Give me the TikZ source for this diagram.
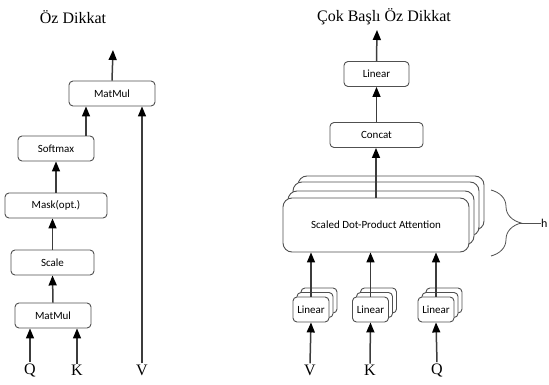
\documentclass[tikz,border=0pt]{standalone}
\usepackage{fontspec}
\setmainfont{Liberation Serif}
\setsansfont{Carlito}
\usepackage{xcolor}
\usetikzlibrary{arrows.meta, positioning, calc, shadows, decorations.pathreplacing}
\definecolor{boxline}{RGB}{80, 80, 80}
\definecolor{arrowline}{RGB}{60, 60, 60}

\begin{document}
\begin{tikzpicture}[
    x=1pt, y=-1pt,
    box/.style={rectangle, draw=boxline, fill=white, rounded corners=4pt, line width=0.9pt, text centered, minimum height=25pt, inner sep=0pt, font=\sffamily\fontsize{11}{13}\selectfont},
    linbox/.style={box, minimum width=36pt, copy shadow={shadow xshift=8pt, shadow yshift=9pt}, copy shadow={shadow xshift=4pt, shadow yshift=4.5pt}},
    attbox/.style={box, minimum width=186pt, minimum height=54pt, rounded corners=9pt, copy shadow={shadow xshift=15pt, shadow yshift=22pt}, copy shadow={shadow xshift=10pt, shadow yshift=16pt}, copy shadow={shadow xshift=5pt, shadow yshift=7pt}},
    title/.style={font=\fontsize{16}{18}\selectfont},
    input/.style={font=\fontsize{16}{18}\selectfont, inner sep=1pt},
    arrow/.style={-{Triangle[width=8pt,length=10pt,color=black]}, line width=1.5pt, color=arrowline},
    bracestyle/.style={decorate, decoration={brace, amplitude=30pt}, line width=0.8pt, color=boxline}
]
    \useasboundingbox (0,0) rectangle (549,385);

    % Titles
    \node[title] (t1) at (73,17) {Öz Dikkat};
    \node[title] (t2) at (384,17) {Çok Başlı Öz Dikkat};

    % Left: self attention
    \node[box, minimum width=76pt] (mm1) at (53,315.5) {MatMul};
    \node[box, minimum width=83pt] (scale) at (52.5,262.5) {Scale};
    \node[box, minimum width=102pt] (mask) at (56,205.5) {Mask(opt.)};
    \node[box, minimum width=76pt] (softmax) at (56,148.5) {Softmax};
    \node[box, minimum width=86pt] (mm2) at (112,93.5) {MatMul};
    \coordinate (out1) at (113,50);

    \node[input] (q1) at (30,370) {Q};
    \node[input] (k1) at (77,370) {K};
    \node[input] (v1) at (142,370) {V};

    % Right: multi-head attention
    \node[linbox] (linv) at (311,309.5) {Linear};
    \node[linbox] (link) at (370.5,309.5) {Linear};
    \node[linbox] (linq) at (436,309.5) {Linear};
    \node[attbox] (sdpa) at (376,225) {Scaled Dot-Product Attention};
    \node[box, minimum width=93pt] (concat) at (376.5,135) {Concat};
    \node[box, minimum width=65pt] (linout) at (376.5,74) {Linear};
    \coordinate (out2) at (377,30);

    \node[input] (v2) at (310,370) {V};
    \node[input] (k2) at (370,370) {K};
    \node[input] (q2) at (437,370) {Q};

    % h heads brace
    \coordinate (brt) at (491,190);
    \coordinate (brb) at (491,256);
    \coordinate (brtip) at (519,223);
    \node[anchor=west, inner sep=0pt, font=\sffamily\fontsize{12}{14}\selectfont] (heads) at (541,223) {h};

    % Arrows left
    \draw[arrow] (q1.north) -- (q1 |- mm1.south);
    \draw[arrow] (k1.north) -- (k1 |- mm1.south);
    \draw[arrow] (mm1.north) -- (scale.south);
    \draw[arrow] (scale.north) -- (scale.north |- mask.south);
    \draw[arrow] (mask.north) -- (softmax.south);
    \coordinate (sm) at ($(softmax.north)+(30,0)$);
    \draw[arrow] (sm) -- (sm |- mm2.south);
    \draw[arrow] (v1.north) -- (v1.north |- mm2.south);
    \draw[arrow] (mm2.north) -- (out1);

    % Arrows right
    \draw[arrow] (v2.north) -- (linv.south);
    \draw[arrow] (k2.north) -- (link.south);
    \draw[arrow] (q2.north) -- (linq.south);
    \draw[arrow] (linv.north) -- (linv.north |- sdpa.south);
    \draw[arrow] (link.north) -- (link.north |- sdpa.south);
    \draw[arrow] (linq.north) -- (linq.north |- sdpa.south);
    \draw[arrow] (sdpa.north) -- (sdpa.north |- concat.south);
    \draw[arrow] (concat.north) -- (linout.south);
    \draw[arrow] (linout.north) -- (out2);

    \draw[bracestyle] (brt) -- (brb);
    \draw[line width=0.8pt, color=boxline] (brtip) -- (heads.west);

\end{tikzpicture}
\end{document}
